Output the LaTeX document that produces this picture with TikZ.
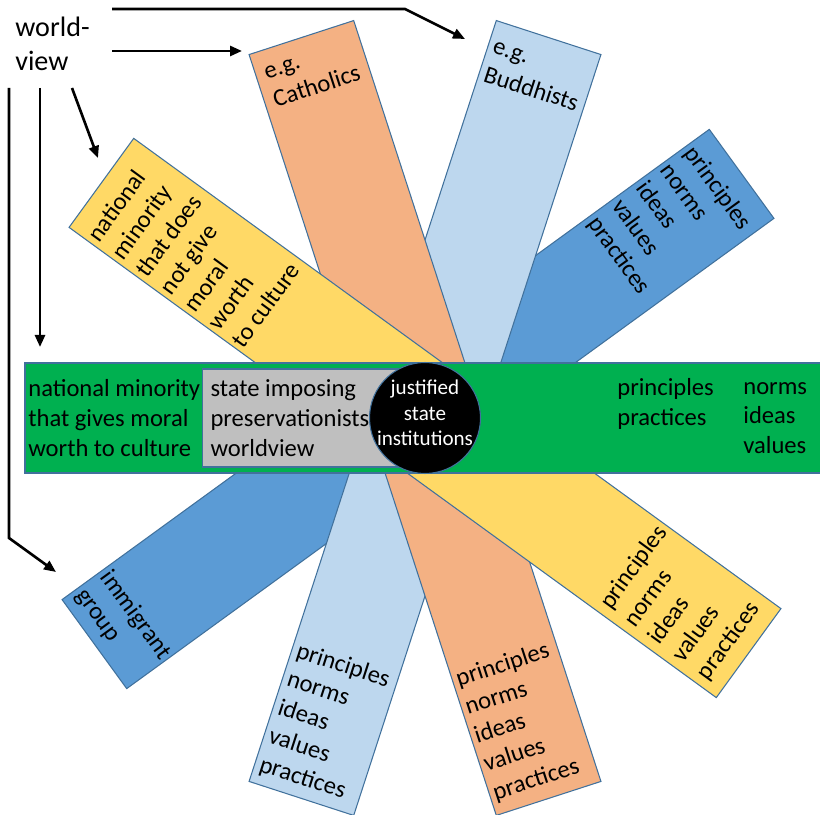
\documentclass[tikz,border=0pt]{standalone}
\usepackage{fontspec}
\setmainfont{Carlito}
\usepackage{xcolor}
\usepackage{tikz}
\usetikzlibrary{arrows.meta}

\definecolor{darkblade}{HTML}{5B9BD5}
\definecolor{lightblade}{HTML}{BDD7EE}
\definecolor{orangeblade}{HTML}{F4B183}
\definecolor{yellowblade}{HTML}{FFD966}
\definecolor{greenblade}{HTML}{00B050}
\definecolor{boxgray}{HTML}{BFBFBF}
\definecolor{rim}{HTML}{41719C}

\tikzset{
  blade/.style={draw=rim, line width=0.6pt},
  lbl/.style={font=\fontsize{14}{17}\selectfont, align=left, inner sep=0pt, anchor=west, transform shape},
  wvarrow/.style={line width=1.5pt, -{Triangle[length=0.24cm,width=0.2cm]}},
}

\begin{document}
\begin{tikzpicture}[x=0.02cm, y=0.02cm]
      \useasboundingbox (0,0) rectangle (820,814);
      \begin{scope}[shift={(418,405)}, rotate=-54]
        \draw[blade, fill=darkblade] (-55,-400) rectangle (55,400);
        \node[lbl] (dkpr) at (-51,312) {principles\\norms\\ideas\\values\\practices};
        \node[lbl] (imm) at (-51,-365) {immigrant\\group};
      \end{scope}
      \begin{scope}[shift={(425,396)}, rotate=-18]
        \draw[blade, fill=lightblade] (-55,-400) rectangle (55,400);
        \node[lbl] (bud) at (-50,359) {e.g.\\Buddhists};
        \node[lbl] (ltpr) at (-50,-321) {principles\\norms\\ideas\\values\\practices};
      \end{scope}
      \begin{scope}[shift={(425,396)}, rotate=18]
        \draw[blade, fill=orangeblade] (-55,-400) rectangle (55,400);
        \node[lbl] (cath) at (-46,362) {e.g.\\Catholics};
        \node[lbl] (orpr) at (-51,-319) {principles\\norms\\ideas\\values\\practices};
      \end{scope}
      \begin{scope}[shift={(425,396)}, rotate=54]
        \draw[blade, fill=yellowblade] (-55,-400) rectangle (55,400);
        \node[lbl] (natno) at (-51,285) {national\\minority\\that does\\not give\\moral\\worth\\to culture};
        \node[lbl] (yepr) at (-47,-317) {principles\\norms\\ideas\\values\\practices};
      \end{scope}
      \draw[blade, fill=greenblade] (25,341) rectangle (825,451);
      \node[lbl] (natyes) at (28,396) {national minority\\that gives moral\\worth to culture};
      \node[lbl, draw=rim, line width=0.6pt, fill=boxgray, text width=3.68cm, align=flush left, inner xsep=0.16cm,
            minimum height=1.96cm] (pres) at (202,396) {state imposing\\preservationists\\worldview};
      \node[circle, draw=rim, line width=0.6pt, fill=black, text=white, minimum size=2.22cm, inner sep=-0.15cm,
            text depth=0.2cm, align=center, font=\fontsize{12}{14.5}\selectfont] (just) at (425,396) {justified\\state\\institutions};
      \node[lbl] (grpr) at (617,410) {principles\\practices};
      \node[lbl] (grno) at (743,396) {norms\\ideas\\values};
      \node[lbl, anchor=north west, font=\fontsize{16}{19}\selectfont] (wv) at (15,797) {world-\\view};
      \coordinate (s1) at (112,805);
      \coordinate (k1) at (405,805);
      \coordinate (e1) at (465,775);
      \coordinate (s2) at (112,763);
      \coordinate (e2) at (242,763);
      \coordinate (s3) at (72,726);
      \coordinate (e3) at (98,656);
      \coordinate (s4) at (40,726);
      \coordinate (e4) at (40,467);
      \coordinate (s5) at (9,726);
      \coordinate (k5) at (9,276);
      \coordinate (e5) at (56,242);
      \draw[wvarrow] (s1) -- (k1) -- (e1);
      \draw[wvarrow] (s2) -- (e2);
      \draw[wvarrow] (s3) -- (e3);
      \draw[wvarrow] (s4) -- (e4);
      \draw[wvarrow] (s5) -- (k5) -- (e5);
    \end{tikzpicture}
\end{document}
